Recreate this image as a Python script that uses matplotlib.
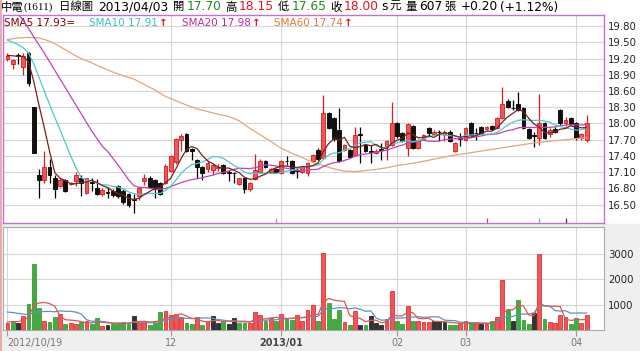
import matplotlib
matplotlib.use("Agg")
import matplotlib.pyplot as plt
from matplotlib.patches import Rectangle
import numpy as np
import pandas as pd

plt.rcParams['font.family'] = ['DejaVu Sans', 'Noto Sans CJK TC']

# daily candles 2012/10/19 .. 2013/04/03
opens = [19.20, 19.10, 19.27, 19.05, 19.30, 18.30, 17.05, 16.95, 17.20, 17.00,
         16.85, 16.95, 16.88, 16.93, 17.00, 16.72, 16.92, 16.80, 16.70, 16.73,
         16.75, 16.85, 16.75, 16.70, 16.60, 16.65, 16.93, 17.00, 16.95, 16.90,
         16.90, 17.13, 17.28, 17.69, 17.81, 17.52, 17.33, 17.19, 17.16, 17.14,
         17.17, 17.23, 17.10, 17.09, 16.89, 16.99, 16.78, 16.97, 17.11, 17.31,
         17.11, 17.16, 17.09, 17.31, 17.30, 17.14, 17.11, 17.08, 17.30, 17.51,
         17.36, 18.20, 18.10, 17.88, 17.51, 17.51, 17.42, 17.80, 17.60, 17.49,
         17.45, 17.52, 17.57, 17.60, 18.00, 17.82, 17.55, 17.96, 17.55, 17.71,
         17.91, 17.80, 17.85, 17.79, 17.85, 17.50, 17.73, 17.70, 18.00, 17.83,
         17.94, 17.89, 17.96, 17.91, 18.10, 18.42, 18.29, 18.36, 18.28, 17.89,
         17.78, 17.74, 18.00, 17.80, 17.90, 18.24, 18.00, 18.10, 18.00, 17.73,
         17.70]
highs = [19.30, 19.20, 19.30, 19.30, 19.32, 18.30, 17.15, 17.50, 17.35, 17.05,
         17.00, 16.98, 16.92, 17.10, 17.05, 17.00, 17.00, 16.97, 16.80, 16.83,
         16.78, 16.87, 16.78, 16.72, 16.70, 16.82, 17.06, 17.02, 16.97, 16.92,
         17.25, 17.42, 17.73, 17.80, 17.82, 17.55, 17.35, 17.22, 17.30, 17.26,
         17.25, 17.25, 17.14, 17.11, 17.00, 17.00, 16.92, 17.44, 17.34, 17.33,
         17.18, 17.18, 17.33, 17.39, 17.32, 17.18, 17.21, 17.29, 17.44, 17.55,
         18.53, 18.22, 18.12, 18.28, 17.62, 17.53, 17.94, 17.94, 17.62, 17.60,
         17.52, 17.63, 17.70, 18.40, 18.02, 17.85, 18.01, 17.98, 17.72, 17.81,
         17.94, 17.87, 17.88, 17.88, 17.87, 17.66, 17.82, 17.93, 18.02, 17.91,
         17.96, 17.96, 17.98, 18.12, 18.67, 18.45, 18.44, 18.59, 18.30, 17.91,
         17.85, 18.55, 18.02, 17.92, 17.93, 18.27, 18.12, 18.12, 18.02, 17.83,
         18.15]
lows = [19.15, 19.00, 19.10, 18.90, 18.70, 17.45, 16.62, 16.90, 16.90, 16.62,
        16.83, 16.73, 16.86, 16.85, 16.65, 16.70, 16.75, 16.67, 16.65, 16.62,
        16.64, 16.63, 16.52, 16.45, 16.35, 16.58, 16.87, 16.80, 16.62, 16.68,
        16.88, 17.10, 17.25, 17.50, 17.48, 17.33, 16.99, 16.96, 17.10, 17.05,
        17.12, 17.07, 16.93, 16.90, 16.87, 16.71, 16.75, 16.95, 17.09, 17.17,
        17.09, 17.08, 17.07, 17.24, 17.07, 16.99, 17.08, 17.03, 17.28, 17.32,
        17.34, 17.89, 17.68, 17.28, 17.49, 17.36, 17.40, 17.27, 17.48, 17.27,
        17.43, 17.33, 17.33, 17.58, 17.74, 17.65, 17.39, 17.53, 17.53, 17.69,
        17.76, 17.78, 17.67, 17.67, 17.65, 17.48, 17.58, 17.68, 17.77, 17.70,
        17.80, 17.87, 17.88, 17.89, 18.08, 18.28, 18.24, 18.23, 17.89, 17.72,
        17.57, 17.60, 17.72, 17.75, 17.82, 17.98, 17.95, 17.97, 17.70, 17.70,
        17.65]
closes = [19.25, 19.18, 19.25, 19.25, 18.75, 17.45, 16.95, 17.20, 17.05, 16.78,
          16.95, 16.75, 16.90, 17.05, 16.90, 16.99, 16.90, 16.70, 16.77, 16.72,
          16.67, 16.65, 16.55, 16.50, 16.59, 16.80, 17.00, 16.82, 16.79, 16.70,
          17.22, 17.40, 17.71, 17.76, 17.50, 17.50, 17.20, 17.08, 17.27, 17.23,
          17.20, 17.09, 17.09, 17.08, 16.99, 16.78, 16.90, 17.14, 17.31, 17.19,
          17.16, 17.10, 17.31, 17.30, 17.09, 17.13, 17.19, 17.27, 17.42, 17.34,
          18.20, 17.91, 17.71, 17.30, 17.60, 17.38, 17.79, 17.79, 17.50, 17.48,
          17.50, 17.51, 17.68, 18.00, 17.76, 17.67, 17.99, 17.55, 17.70, 17.79,
          17.82, 17.85, 17.84, 17.85, 17.67, 17.64, 17.72, 17.91, 17.79, 17.82,
          17.83, 17.94, 17.90, 18.10, 18.36, 18.30, 18.28, 18.25, 17.91, 17.74,
          17.77, 18.00, 17.74, 17.88, 17.85, 18.00, 18.07, 17.99, 17.73, 17.81,
          18.00]
volumes = [290, 370, 290, 550, 1030, 2620, 870, 370, 320, 500,
           630, 220, 280, 220, 320, 340, 250, 460, 160, 210,
           250, 250, 320, 240, 540, 320, 290, 210, 290, 710,
           740, 600, 640, 510, 280, 250, 510, 200, 340, 540,
           280, 340, 250, 460, 290, 290, 260, 700, 590, 370,
           460, 370, 630, 450, 410, 580, 370, 780, 970, 370,
           3040, 1080, 450, 790, 320, 210, 740, 210, 180, 540,
           280, 180, 450, 1530, 370, 240, 930, 370, 370, 320,
           320, 340, 340, 320, 210, 210, 260, 340, 260, 260,
           220, 240, 340, 530, 1990, 820, 340, 1200, 380, 240,
           670, 3000, 450, 320, 260, 590, 510, 220, 460, 260,
           607]
# day-on-day change sign used for the volume bar colour (1 up, -1 down, 0 flat)
vol_dir = [1, -1, 0, 1, -1, -1, -1, 1, -1, -1,
           1, -1, 1, 1, -1, 1, -1, -1, 1, 0,
           -1, -1, -1, -1, 0, 1, 1, -1, -1, -1,
           1, 1, 1, 1, -1, -1, 1, -1, 1, 0,
           0, -1, 0, 0, -1, -1, 1, 1, 1, -1,
           1, -1, 1, -1, -1, 1, 1, 1, 1, -1,
           1, -1, -1, -1, 1, -1, 1, 0, -1, 0,
           0, 0, 1, 1, -1, -1, 1, -1, 1, 1,
           1, 0, 0, 0, -1, -1, 1, 1, -1, 1,
           0, 1, -1, 1, 1, -1, 0, -1, -1, -1,
           0, 1, -1, 1, 1, 1, 1, -1, -1, 1,
           1]

# moving-average values before a full window exists
sma5_head = [19.26, 19.25, 19.24, 19.24]
sma10_head = [19.54, 19.50, 19.46, 19.40, 19.30, 19.10, 18.85, 18.60, 18.35]
sma20_head = [20.15, 20.10, 20.03, 19.90, 19.76, 19.60, 19.45, 19.30, 19.14, 18.98,
              18.82, 18.66, 18.50, 18.34, 18.18, 18.02, 17.86, 17.72, 17.58]
sma60_idx = list(range(0, 111, 2))
sma60_val = [19.55, 19.58, 19.59, 19.58, 19.52, 19.42, 19.30, 19.20, 19.12, 19.03,
             18.95, 18.88, 18.82, 18.72, 18.62, 18.50, 18.42, 18.34, 18.27, 18.22,
             18.17, 18.13, 18.05, 17.91, 17.79, 17.67, 17.54, 17.45, 17.37, 17.28,
             17.22, 17.16, 17.12, 17.11, 17.13, 17.15, 17.18, 17.22, 17.25, 17.28,
             17.32, 17.36, 17.40, 17.43, 17.46, 17.49, 17.52, 17.55, 17.58, 17.61,
             17.64, 17.66, 17.68, 17.70, 17.72, 17.74]
vma5_head = [320, 330, 330, 390]
vma10_head = [710, 690, 660, 630, 610, 680, 720, 730, 735]

price_ticks = [16.50, 16.80, 17.10, 17.40, 17.70, 18.00, 18.30, 18.60, 18.90, 19.20, 19.50, 19.80]
vol_ticks = [1000, 2000, 3000]
date_idx = [0, 31, 52, 74, 87, 108]
date_labels = ["2012/10/19", "12", "2013/01", "02", "03", "04"]
event_idx = [51, 91, 101, 106]
event_col = ['#e08a40', '#d04090', '#40c8c8', '#6a2a2a']

W, H = 640, 351


def with_head(vals, n, head):
	r = pd.Series(vals, dtype=float).rolling(n).mean().to_numpy()
	r[:n - 1] = head
	return r


x = np.arange(len(closes))
o = np.array(opens)
c = np.array(closes)
hi = np.array(highs)
lo = np.array(lows)
vol = np.array(volumes, dtype=float)

fig = plt.figure(figsize=(W / 100, H / 100), dpi=100, facecolor='white')
fig.patches.append(Rectangle((0, 0), 1, (H - 224) / H, transform=fig.transFigure,
                             color='#efefef', zorder=-5))

ax = fig.add_axes([3 / W, 1 - 223 / H, 601 / W, (223 - 14.7) / H])
axv = fig.add_axes([3 / W, 1 - 330 / H, 601 / W, (330 - 226.7) / H])

xlim = (-0.85, 113.3)

# ---- price panel
ax.set_xlim(*xlim)
ax.set_ylim(16.16, 20.01)
ax.set_yticks(price_ticks)
ax.set_yticklabels(["%.2f" % t for t in price_ticks])
ax.yaxis.tick_right()
ax.tick_params(axis='y', length=0, pad=3, labelsize=7.3, labelcolor='#222222')
ax.set_xticks(date_idx[1:])
ax.tick_params(axis='x', length=0, labelbottom=False)
ax.grid(True, color='#d6d6d6', lw=0.8)
ax.set_axisbelow(True)
for s in ax.spines.values():
	s.set_color('#c86ed8')
	s.set_linewidth(1.0)

up = c >= o
body_col = np.where(up, '#f25555', '#111111')
edge_col = np.where(up, '#d91c1c', '#000000')
ax.vlines(x, lo, hi, colors=edge_col, lw=0.9, zorder=3)
ax.bar(x, np.maximum(np.abs(c - o), 0.01), 0.72, bottom=np.minimum(o, c),
       color=body_col, edgecolor=edge_col, lw=0.6, zorder=4)

ax.plot(sma60_idx, sma60_val, color='#e3a77a', lw=0.9, zorder=5)
ax.plot(x, with_head(closes, 20, sma20_head), color='#c244b4', lw=0.9, zorder=5)
ax.plot(x, with_head(closes, 10, sma10_head), color='#47cccc', lw=0.9, zorder=5)
ax.plot(x, with_head(closes, 5, sma5_head), color='#7a2020', lw=0.9, zorder=6)

for i, col in zip(event_idx, event_col):
	ax.vlines(i, 16.16, 16.26, colors=col, lw=0.9, zorder=6)

# ---- volume panel
axv.set_xlim(*xlim)
axv.set_ylim(0, 4083)
axv.set_yticks(vol_ticks)
axv.yaxis.tick_right()
axv.tick_params(axis='y', length=0, pad=3, labelsize=7.3, labelcolor='#222222')
axv.set_xticks(date_idx)
axv.set_xticklabels(date_labels)
axv.tick_params(axis='x', length=4, width=0.8, color='#999999', pad=2,
                labelsize=6.9, labelcolor='#777777')
labs = axv.get_xticklabels()
labs[0].set_ha('left')
labs[0].set_x(-0.3)
labs[2].set_fontweight('bold')
labs[2].set_color('#444444')
axv.grid(True, color='#d6d6d6', lw=0.8)
axv.set_axisbelow(True)
for s in axv.spines.values():
	s.set_color('#aaaaaa')
	s.set_linewidth(0.8)

vcol = {1: '#f25555', -1: '#3fae3f', 0: '#333333'}
vedge = {1: '#d91c1c', -1: '#2a8c2a', 0: '#111111'}
axv.bar(x, vol, 0.72, color=[vcol[d] for d in vol_dir],
        edgecolor=[vedge[d] for d in vol_dir], lw=0.5, zorder=3)
axv.plot(x, with_head(volumes, 10, vma10_head), color='#5a95c0', lw=0.9, zorder=4)
axv.plot(x, with_head(volumes, 5, vma5_head), color='#e05555', lw=0.9, zorder=4)


# ---- text rows, pieces chained left to right
def chain(x0, y0, parts, size):
	prev = None
	for p in parts:
		text, color, gap = p[0], p[1], p[2]
		kw = dict(color=color, fontsize=size, ha='left', va='center', annotation_clip=False)
		if len(p) > 3:
			kw.update(p[3])
		if prev is None:
			prev = ax.annotate(text, xy=(x0, H - y0), xycoords='figure pixels', **kw)
		else:
			prev = ax.annotate(text, xy=(1, 0.5), xycoords=prev, xytext=(gap, 0),
			                   textcoords='offset pixels', **kw)


RED, GRN = '#e0151c', '#1f8a1f'
ARROW = {'fontweight': 'bold'}
CJK = {'fontsize': 8.2}
chain(1, 7, [
	("中電", 'black', 0, CJK),
	("(1611)", 'black', 0, {'family': 'Liberation Serif', 'fontsize': 8}),
	("日線圖", 'black', 6, CJK),
	("2013/04/03", 'black', 5),
	("開", 'black', 5, CJK), ("17.70", GRN, 2),
	("高", 'black', 4, CJK), ("18.15", RED, 2),
	("低", 'black', 4, CJK), ("17.65", GRN, 2),
	("收", 'black', 4, CJK), ("18.00", RED, 2),
	("s", 'black', 2), ("元", 'black', 2, CJK),
	("量", 'black', 5, CJK), ("607", 'black', 2), ("張", 'black', 2, CJK),
	("+0.20", 'black', 5), ("(+1.12%)", 'black', 2),
], 8.8)

chain(4, 22.7, [
	("SMA5 17.93=", '#800000', 0),
	("SMA10 17.91", '#33c4c4', 14), ("↑", RED, 1, ARROW),
	("SMA20 17.98", '#c02c98', 14), ("↑", RED, 1, ARROW),
	("SMA60 17.74", '#e07b39', 14), ("↑", RED, 1, ARROW),
], 7.5)

chain(4, 233.7, [
	("成交量 607", 'black', 0), ("↑", RED, 1, ARROW), ("張", '#333333', 1),
	("MA5 414", '#e02a2a', 16), ("↑", RED, 1, ARROW), ("張", '#e02a2a', 1),
	("MA10 662", '#2f7bb5', 16), ("↓", '#1f8a1f', 1, ARROW), ("張", '#2f7bb5', 1),
], 7.5)

fig.add_artist(plt.Line2D([0.8 / W, 0.8 / W], [0, 1], transform=fig.transFigure,
                          color='#e2a0a0', lw=1.2))

fig.savefig('out.png', dpi=100, facecolor=fig.get_facecolor())
